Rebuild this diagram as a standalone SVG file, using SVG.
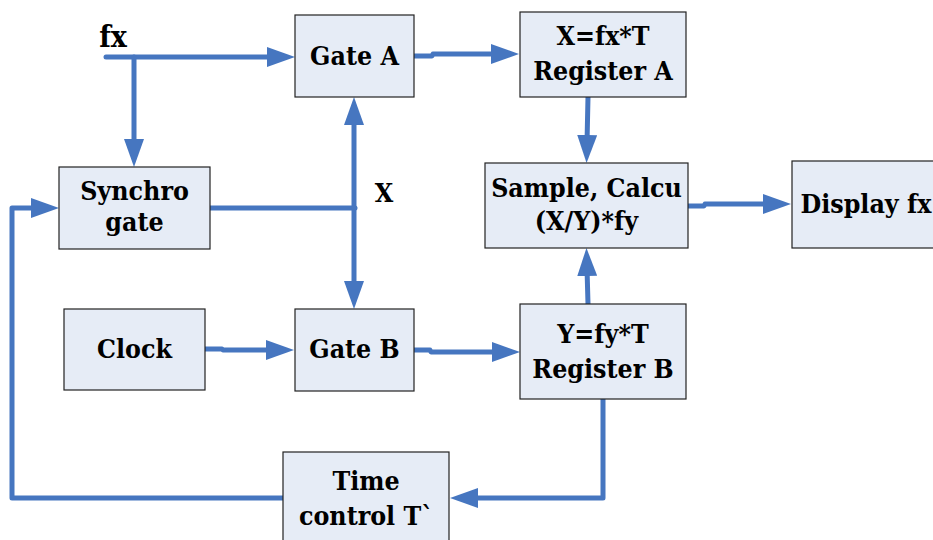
<svg xmlns="http://www.w3.org/2000/svg" width="933" height="540" viewBox="0 0 933 540">
<style>
.box{fill:#E6ECF6;stroke:#222;stroke-width:1.2}
.t{font-family:'DejaVu Serif Condensed','DejaVu Serif',serif;font-stretch:condensed;font-weight:bold;font-size:26.5px;fill:#000;text-anchor:middle}
.c{fill:none;stroke:#4676C0;stroke-width:5;stroke-linecap:round;stroke-linejoin:round}
</style>
<defs>
<marker id="ah" markerUnits="userSpaceOnUse" markerWidth="28" markerHeight="20" refX="8" refY="10" orient="auto">
<path d="M0,0 L28,10 L0,20 z" fill="#4676C0"/>
</marker>
</defs>
<rect width="933" height="540" fill="#fff"/>
<g id="connectors">
<path class="c" d="M106,57 H275" marker-end="url(#ah)"/>
<path class="c" d="M134,57 V147" marker-end="url(#ah)"/>
<path class="c" d="M210,208 H355"/>
<path class="c" d="M354,208 V117" marker-end="url(#ah)"/>
<path class="c" d="M354,208 V289" marker-end="url(#ah)"/>
<path class="c" d="M414,56 H432 L433,54 H499" marker-end="url(#ah)"/>
<path class="c" d="M588,97 L587,143" marker-end="url(#ah)"/>
<path class="c" d="M688,206 H704 L705,204 H771" marker-end="url(#ah)"/>
<path class="c" d="M205,349 H222 L223,350 H274" marker-end="url(#ah)"/>
<path class="c" d="M414,350 H430 L431,352 H500" marker-end="url(#ah)"/>
<path class="c" d="M588,304 L587,268" marker-end="url(#ah)"/>
<path class="c" d="M603,399 V498 H470" marker-end="url(#ah)"/>
<path class="c" d="M283,498 H12 V208 H39" marker-end="url(#ah)"/>
</g>
<text class="t" x="113" y="47" style="font-size:30px">fx</text>
<text class="t" x="384" y="202">X</text>
<g id="gateA">
<rect class="box" x="295" y="15" width="119" height="82"/>
<text class="t" x="354.5" y="65">Gate A</text>
</g>
<g id="synchro">
<rect class="box" x="59" y="167" width="151" height="82"/>
<text class="t" x="134.5" y="200">Synchro</text>
<text class="t" x="134.5" y="231">gate</text>
</g>
<g id="registerA">
<rect class="box" x="520" y="12" width="166" height="85"/>
<text class="t" x="603" y="45">X=fx*T</text>
<text class="t" x="603" y="80">Register A</text>
</g>
<g id="sample">
<rect class="box" x="485" y="163" width="203" height="85"/>
<text class="t" x="586.5" y="197">Sample, Calcu</text>
<text class="t" x="586.5" y="230">(X/Y)*fy</text>
</g>
<g id="display">
<rect class="box" x="792" y="161" width="150" height="87"/>
<text class="t" x="866" y="213">Display fx</text>
</g>
<g id="clock">
<rect class="box" x="64" y="309" width="141" height="81"/>
<text class="t" x="134.5" y="358">Clock</text>
</g>
<g id="gateB">
<rect class="box" x="295" y="309" width="119" height="82"/>
<text class="t" x="354.5" y="358">Gate B</text>
</g>
<g id="registerB">
<rect class="box" x="520" y="304" width="166" height="95"/>
<text class="t" x="603" y="343">Y=fy*T</text>
<text class="t" x="603" y="378">Register B</text>
</g>
<g id="timeControl">
<rect class="box" x="283" y="452" width="166" height="100"/>
<text class="t" x="366" y="490">Time</text>
<text class="t" x="366" y="525">control T`</text>
</g>
</svg>
